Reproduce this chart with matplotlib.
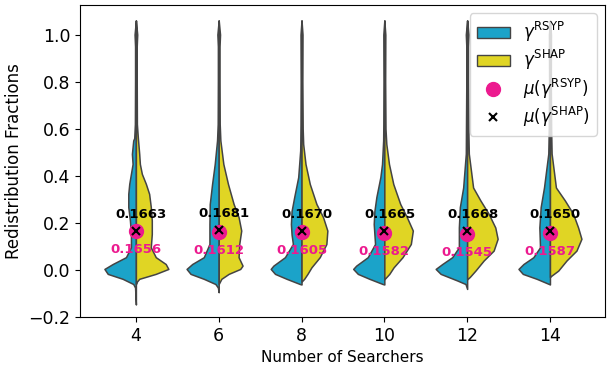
import numpy as np
import matplotlib
matplotlib.use("Agg")
import matplotlib.pyplot as plt
from matplotlib.patches import Patch
from matplotlib.lines import Line2D

searchers = [4, 6, 8, 10, 12, 14]
mean_rsyp = [0.1656, 0.1612, 0.1605, 0.1582, 0.1545, 0.1587]
mean_shap = [0.1663, 0.1681, 0.1670, 0.1665, 0.1668, 0.1650]

# kde profiles, one per number of searchers: (fraction, relative density)
rsyp_density = [
    [(1.06, 0), (1.0, 4), (0.95, 2.5), (0.8, 2.5), (0.62, 3), (0.56, 5), (0.55, 8), (0.493, 12),
     (0.45, 10), (0.408, 15), (0.366, 20), (0.323, 23), (0.267, 23), (0.21, 18), (0.153, 15),
     (0.096, 15), (0.054, 30), (0.025, 70), (0.004, 95), (-0.017, 85), (-0.038, 40),
     (-0.06, 8), (-0.075, 2.5), (-0.147, 0)],
    [(1.06, 0), (1.0, 4), (0.95, 2.5), (0.8, 2.5), (0.62, 3), (0.55, 5), (0.45, 12), (0.365, 20),
     (0.28, 27), (0.195, 28), (0.11, 28), (0.054, 45), (0.025, 80), (0.004, 97), (-0.017, 85),
     (-0.038, 45), (-0.06, 10), (-0.075, 2.5), (-0.095, 0)],
    [(1.06, 0), (1.0, 3), (0.8, 2.5), (0.62, 3), (0.55, 3.5), (0.507, 4), (0.45, 7), (0.394, 10),
     (0.31, 22), (0.25, 30), (0.195, 32), (0.15, 30), (0.11, 26), (0.054, 50), (0.018, 85),
     (0.004, 93), (-0.017, 80), (-0.038, 45), (-0.06, 5), (-0.062, 0)],
    [(1.06, 0), (1.0, 3), (0.8, 2.5), (0.62, 3), (0.55, 3.5), (0.45, 7), (0.394, 12), (0.31, 24),
     (0.25, 30), (0.195, 32), (0.11, 28), (0.054, 50), (0.018, 85), (0.004, 94), (-0.017, 80),
     (-0.038, 45), (-0.06, 5), (-0.062, 0)],
    [(1.06, 0), (1.0, 4), (0.95, 2.5), (0.8, 2.5), (0.6, 3.5), (0.494, 4), (0.35, 12), (0.267, 22),
     (0.18, 25), (0.096, 25), (0.054, 45), (0.025, 75), (0.004, 95), (-0.017, 80),
     (-0.045, 30), (-0.06, 5), (-0.081, 0)],
    [(1.06, 0), (1.0, 3), (0.8, 2.5), (0.6, 3.5), (0.494, 5), (0.35, 18), (0.267, 28), (0.18, 32),
     (0.096, 30), (0.054, 50), (0.025, 80), (0.004, 95), (-0.017, 82), (-0.038, 40),
     (-0.06, 3), (-0.062, 0)],
]
shap_density = [
    [(1.06, 0), (1.0, 4), (0.95, 2.5), (0.8, 2.5), (0.62, 3), (0.56, 6), (0.493, 10), (0.45, 12),
     (0.408, 18), (0.366, 30), (0.323, 40), (0.267, 45), (0.21, 48), (0.153, 48), (0.096, 45),
     (0.054, 60), (0.025, 90), (0.004, 98), (-0.017, 60), (-0.038, 10), (-0.05, 3), (-0.06, 0)],
    [(1.06, 0), (1.0, 4), (0.95, 2.5), (0.8, 2.5), (0.62, 3), (0.55, 5), (0.45, 14), (0.365, 28),
     (0.28, 45), (0.224, 60), (0.167, 68), (0.11, 62), (0.054, 60), (0.018, 72), (0.004, 65),
     (-0.017, 30), (-0.038, 8), (-0.06, 0)],
    [(1.06, 0), (1.0, 3), (0.8, 2.5), (0.6, 3.5), (0.535, 5), (0.45, 12), (0.365, 25), (0.28, 45),
     (0.224, 65), (0.167, 78), (0.11, 75), (0.054, 55), (0.011, 30), (-0.017, 18),
     (-0.038, 8), (-0.05, 0)],
    [(1.06, 0), (1.0, 3), (0.8, 2.5), (0.6, 3.5), (0.535, 6), (0.45, 14), (0.365, 27), (0.28, 48),
     (0.224, 68), (0.167, 86), (0.11, 80), (0.054, 55), (0.011, 28), (-0.017, 15), (-0.04, 0)],
    [(1.06, 0), (1.0, 4), (0.95, 2.5), (0.8, 2.5), (0.6, 3.5), (0.494, 5), (0.35, 18), (0.295, 40),
     (0.238, 65), (0.18, 85), (0.132, 92), (0.082, 80), (0.04, 50), (-0.003, 25),
     (-0.03, 8), (-0.04, 0)],
    [(1.06, 0), (1.0, 3), (0.8, 2.5), (0.6, 3.5), (0.494, 5), (0.35, 18), (0.295, 45), (0.238, 70),
     (0.18, 85), (0.132, 95), (0.082, 80), (0.04, 50), (-0.003, 25), (-0.024, 5), (-0.03, 0)],
]

blue = "#1ba3c9"
yellow = "#e0d524"
pink = "#ec1a8f"
edge = "#444444"
half_scale = 0.8 / 100  # x units per unit of relative density

fig = plt.figure(figsize=(6.13, 3.66), dpi=100)
ax = fig.add_axes([0.1305, 0.134, 0.8565, 0.852])

for i, x in enumerate(searchers):
    left = np.array(rsyp_density[i])
    right = np.array(shap_density[i])
    ax.fill_betweenx(left[:, 0], x - left[:, 1] * half_scale, x,
                     facecolor=blue, edgecolor=edge, linewidth=1.1, zorder=2)
    ax.fill_betweenx(right[:, 0], x, x + right[:, 1] * half_scale,
                     facecolor=yellow, edgecolor=edge, linewidth=1.1, zorder=2)

ax.plot(searchers, mean_rsyp, 'o', color=pink, markersize=10, zorder=4)
ax.plot(searchers, mean_shap, 'x', color='black', markersize=6, markeredgewidth=1.5, zorder=5)

for x, mr, ms in zip(searchers, mean_rsyp, mean_shap):
    ax.text(x + 0.13, ms + 0.07, f"{ms:.4f}", ha='center', va='center',
            fontsize=9.5, fontweight='bold', color='black', zorder=6)
    ax.text(x, mr - 0.08, f"{mr:.4f}", ha='center', va='center',
            fontsize=9.5, fontweight='bold', color=pink, zorder=6)

ax.set_xlim(2.65, 15.33)
ax.set_ylim(-0.2, 1.125)
ax.set_xticks(searchers)
ax.set_yticks(np.arange(-0.2, 1.01, 0.2))
ax.tick_params(labelsize=12.5)
ax.set_xlabel("Number of Searchers", fontsize=11)
ax.set_ylabel("Redistribution Fractions", fontsize=12)

handles = [
    Patch(facecolor=blue, edgecolor=edge, label=r'$\gamma^{\rm RSYP}$'),
    Patch(facecolor=yellow, edgecolor=edge, label=r'$\gamma^{\rm SHAP}$'),
    Line2D([], [], marker='o', color=pink, linestyle='', markersize=10,
           label=r'$\mu(\gamma^{\rm RSYP})$'),
    Line2D([], [], marker='x', color='black', linestyle='', markersize=6,
           markeredgewidth=1.5, label=r'$\mu(\gamma^{\rm SHAP})$'),
]
ax.legend(handles=handles, loc='upper right', fontsize=12, labelspacing=0.25)

fig.savefig("out.png", dpi=100)
